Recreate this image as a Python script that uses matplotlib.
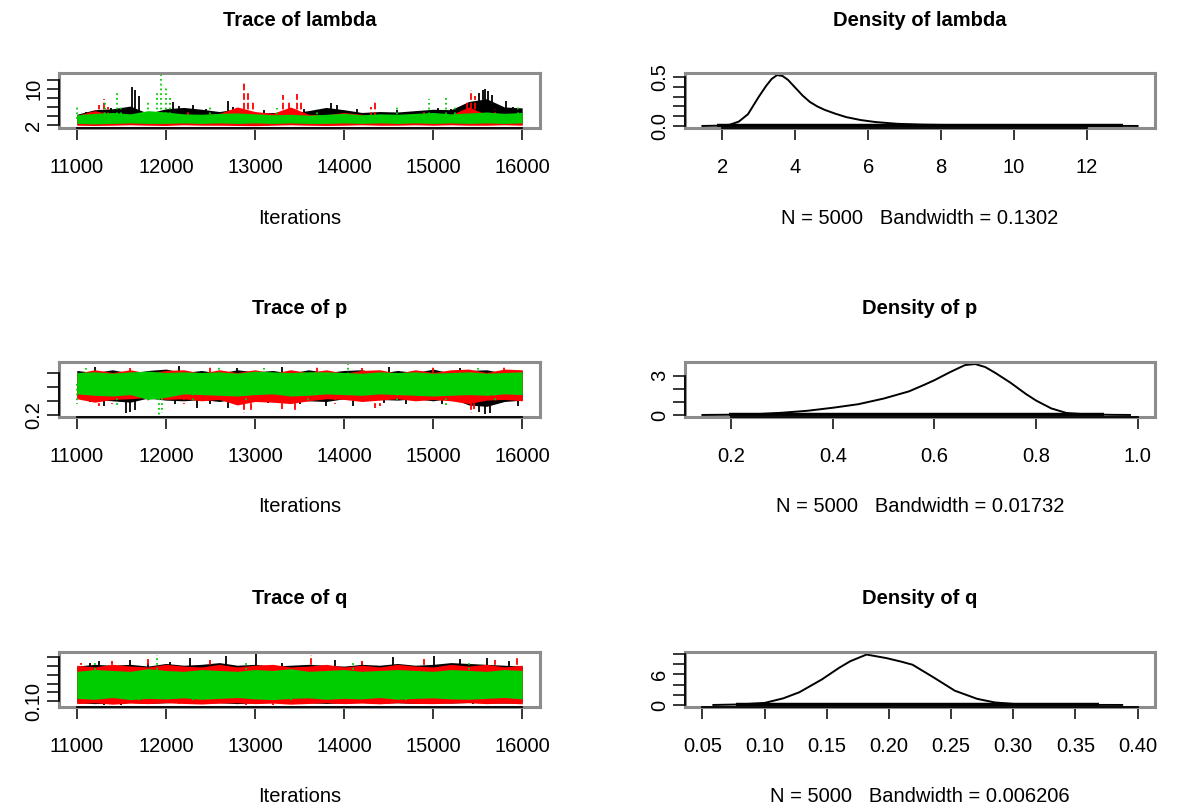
import numpy as np
import matplotlib
matplotlib.use('Agg')
import matplotlib.pyplot as plt

plt.rcParams['font.family'] = ['Liberation Sans', 'DejaVu Sans']

ITERS = list(range(11000, 16001, 200))

# ---- lambda traces (black = chain 1, red = chain 2, green = chain 3)
LAM_K_LO = [2.2, 2.1, 2.2, 2.3, 2.2, 2.1, 2.3, 2.2, 2.2, 2.1, 2.0, 2.2, 2.3, 2.2, 2.1, 2.2, 2.3, 2.2, 2.2, 2.3, 2.2, 2.3, 2.2, 2.2, 2.3, 2.2]
LAM_K_HI = [4.4, 5.4, 5.6, 6.2, 4.6, 5.6, 5.9, 5.5, 5.0, 5.6, 4.6, 4.8, 4.7, 5.2, 5.9, 5.4, 4.8, 5.0, 4.9, 5.2, 5.5, 5.4, 7.2, 7.8, 6.0, 5.8]
LAM_R_LO = [2.0, 1.95, 2.0, 2.1, 2.0, 1.95, 2.1, 2.0, 2.0, 1.95, 1.9, 2.0, 2.1, 2.0, 1.95, 2.0, 2.1, 2.0, 2.0, 2.1, 2.0, 2.1, 2.0, 2.0, 2.1, 2.0]
LAM_R_HI = [4.2, 5.2, 4.3, 4.2, 4.1, 4.2, 4.4, 4.3, 4.6, 6.0, 5.0, 4.6, 6.0, 4.4, 4.3, 4.8, 4.4, 4.2, 4.3, 4.5, 4.2, 4.3, 6.0, 4.3, 4.2, 4.1]
LAM_G_LO = [2.4, 2.3, 2.4, 2.5, 2.4, 2.4, 2.5, 2.4, 2.5, 2.4, 2.5, 2.4, 2.5, 2.4, 2.4, 2.5, 2.4, 2.5, 2.4, 2.5, 2.4, 2.5, 2.4, 2.5, 2.4, 2.5]
LAM_G_HI = [4.3, 4.6, 4.8, 4.5, 5.2, 4.9, 4.5, 4.4, 4.6, 4.7, 4.5, 4.3, 4.4, 4.2, 4.4, 4.6, 4.3, 4.5, 4.4, 4.6, 4.8, 4.5, 4.7, 4.9, 4.6, 4.8]
LAM_K_SPX = [11100, 11250, 11380, 11620, 11650, 11700, 12080, 12150, 12300, 12450, 12600, 12700, 12750, 13100, 13550,
             13600, 13850, 13920, 14150, 14600, 15050, 15200, 15520, 15560, 15580, 15620, 15660, 15820, 15900]
LAM_K_SPY = [5.0, 5.4, 5.8, 10.3, 9.8, 8.5, 7.2, 6.2, 6.5, 5.6, 1.95, 7.4, 6.0, 5.3, 5.5,
             2.0, 6.8, 6.5, 5.6, 5.4, 5.7, 5.6, 9.0, 9.8, 10.0, 9.5, 8.6, 7.3, 6.0]
LAM_R_SPX = [11150, 11250, 11300, 11350, 12250, 12880, 12920, 12980, 13150, 13320, 13380, 13470, 13520, 14300, 14350,
             14900, 15380, 15430, 15470, 15700]
LAM_R_SPY = [5.0, 6.5, 7.8, 6.0, 5.2, 11.2, 9.0, 7.5, 1.84, 8.7, 7.0, 8.9, 7.2, 6.0, 7.0,
             5.4, 7.5, 9.8, 8.5, 5.5]
LAM_G_SPX = [11000, 11320, 11450, 11500, 11800, 11900, 11950, 12000, 12050, 12500, 13250, 13700, 14600, 14950, 15150,
             15250, 15950]
LAM_G_SPY = [6.2, 7.0, 9.0, 6.5, 7.0, 9.5, 13.0, 10.5, 8.0, 6.0, 5.8, 5.5, 6.3, 7.7, 8.1,
             6.0, 5.9]

# ---- p traces
P_K_LO = [0.45, 0.42, 0.40, 0.38, 0.44, 0.41, 0.40, 0.42, 0.39, 0.43, 0.42, 0.44, 0.41, 0.40, 0.39, 0.43, 0.44, 0.42, 0.41, 0.43, 0.40, 0.44, 0.34, 0.32, 0.39, 0.41]
P_K_HI = [0.84, 0.81, 0.85, 0.80, 0.84, 0.86, 0.81, 0.84, 0.80, 0.85, 0.82, 0.84, 0.80, 0.85, 0.81, 0.84, 0.85, 0.80, 0.84, 0.81, 0.86, 0.80, 0.84, 0.85, 0.80, 0.84]
P_R_LO = [0.43, 0.38, 0.42, 0.43, 0.45, 0.42, 0.43, 0.40, 0.42, 0.34, 0.39, 0.38, 0.36, 0.40, 0.43, 0.42, 0.39, 0.41, 0.43, 0.40, 0.42, 0.40, 0.36, 0.41, 0.42, 0.40]
P_R_HI = [0.80, 0.85, 0.81, 0.85, 0.80, 0.84, 0.85, 0.80, 0.85, 0.81, 0.85, 0.80, 0.85, 0.81, 0.85, 0.80, 0.84, 0.85, 0.80, 0.85, 0.81, 0.85, 0.86, 0.81, 0.86, 0.85]
P_G_LO = [0.50, 0.48, 0.47, 0.49, 0.42, 0.45, 0.50, 0.49, 0.48, 0.47, 0.49, 0.50, 0.47, 0.48, 0.50, 0.49, 0.48, 0.50, 0.49, 0.48, 0.47, 0.48, 0.49, 0.48, 0.50, 0.49]
P_G_HI = [0.81, 0.82, 0.80, 0.82, 0.83, 0.81, 0.82, 0.81, 0.82, 0.80, 0.83, 0.82, 0.81, 0.82, 0.82, 0.81, 0.80, 0.82, 0.81, 0.82, 0.80, 0.81, 0.82, 0.80, 0.81, 0.82]
P_K_SPX = [11150, 11200, 11300, 11550, 11600, 11650, 12100, 12150, 12350, 12500, 12700, 12800, 13150, 13300, 13500,
           13800, 14100, 14450, 14500, 14700, 15100, 15300, 15520, 15580, 15640, 15950]
P_K_SPY = [0.38, 0.89, 0.33, 0.22, 0.24, 0.27, 0.36, 0.90, 0.30, 0.35, 0.30, 0.88, 0.37, 0.89, 0.36,
           0.32, 0.33, 0.37, 0.89, 0.35, 0.36, 0.88, 0.24, 0.21, 0.23, 0.33]
P_R_SPX = [11250, 11400, 11600, 11800, 12200, 12500, 12880, 12950, 13300, 13450, 13700, 13900, 14200, 14350, 14400,
           14800, 15000, 15420, 15460, 15800]
P_R_SPY = [0.32, 0.36, 0.88, 0.38, 0.36, 0.89, 0.22, 0.27, 0.28, 0.26, 0.90, 0.36, 0.88, 0.30, 0.33,
           0.37, 0.89, 0.23, 0.28, 0.90]
P_G_SPX = [11000, 11100, 11450, 11920, 11960, 12300, 12600, 12900, 13100, 13600, 14050, 14600, 15150, 15500, 15700]
P_G_SPY = [0.35, 0.88, 0.30, 0.195, 0.22, 0.38, 0.89, 0.37, 0.88, 0.40, 0.933, 0.40, 0.33, 0.88, 0.38]

# ---- q traces
Q_K_LO = [0.090, 0.085, 0.088, 0.092, 0.086, 0.090, 0.094, 0.088, 0.090, 0.085, 0.090, 0.092, 0.088, 0.090, 0.086, 0.090, 0.092, 0.088, 0.090, 0.086, 0.090, 0.088, 0.092, 0.090, 0.088, 0.090]
Q_K_HI = [0.300, 0.310, 0.305, 0.310, 0.300, 0.315, 0.305, 0.310, 0.320, 0.305, 0.310, 0.300, 0.305, 0.310, 0.305, 0.300, 0.310, 0.305, 0.315, 0.305, 0.310, 0.320, 0.315, 0.310, 0.305, 0.300]
Q_R_LO = [0.085, 0.090, 0.082, 0.088, 0.085, 0.090, 0.086, 0.083, 0.088, 0.090, 0.085, 0.088, 0.082, 0.086, 0.090, 0.085, 0.088, 0.084, 0.090, 0.086, 0.085, 0.088, 0.090, 0.085, 0.088, 0.084]
Q_R_HI = [0.305, 0.295, 0.310, 0.300, 0.295, 0.310, 0.300, 0.295, 0.310, 0.295, 0.305, 0.310, 0.295, 0.300, 0.310, 0.295, 0.305, 0.295, 0.310, 0.300, 0.295, 0.310, 0.300, 0.310, 0.295, 0.305]
Q_G_LO = [0.115, 0.110, 0.120, 0.108, 0.115, 0.112, 0.118, 0.110, 0.115, 0.120, 0.112, 0.108, 0.115, 0.118, 0.110, 0.115, 0.112, 0.120, 0.110, 0.115, 0.118, 0.112, 0.110, 0.115, 0.120, 0.112]
Q_G_HI = [0.270, 0.280, 0.275, 0.270, 0.285, 0.275, 0.270, 0.280, 0.275, 0.270, 0.280, 0.275, 0.285, 0.270, 0.275, 0.280, 0.270, 0.275, 0.280, 0.275, 0.270, 0.280, 0.275, 0.270, 0.280, 0.275]
Q_K_SPX = [11150, 11250, 11300, 11500, 11600, 11800, 12050, 12270, 12400, 12680, 12800, 13010, 13300, 13600, 13900,
           14200, 14555, 14800, 15010, 15300, 15450, 15600, 15850]
Q_K_SPY = [0.320, 0.330, 0.080, 0.079, 0.335, 0.320, 0.325, 0.345, 0.082, 0.358, 0.085, 0.369, 0.320, 0.083, 0.335,
           0.325, 0.350, 0.084, 0.360, 0.340, 0.082, 0.345, 0.330]
Q_R_SPX = [11050, 11400, 11550, 11800, 12150, 12500, 12900, 13200, 13630, 13900, 14200, 14500, 14900, 15200, 15700, 15940]
Q_R_SPY = [0.320, 0.330, 0.081, 0.340, 0.083, 0.335, 0.080, 0.0774, 0.365, 0.082, 0.330, 0.082, 0.340, 0.083, 0.335, 0.345]
Q_G_SPX = [11200, 11700, 11895, 12300, 12900, 13400, 14100, 14700, 15400]
Q_G_SPY = [0.335, 0.090, 0.365, 0.092, 0.330, 0.092, 0.325, 0.090, 0.325]

# ---- kernel density curves
LAM_DX = [1.45, 1.9, 2.2, 2.45, 2.7, 3.0, 3.2, 3.35, 3.5, 3.65, 3.8, 4.0, 4.2, 4.4, 4.6, 4.8, 5.1, 5.4, 5.8, 6.2, 6.8, 7.5, 8.5, 9.5, 11.0, 12.5, 13.39]
LAM_DY = [0.0, 0.003, 0.012, 0.045, 0.12, 0.30, 0.41, 0.48, 0.52, 0.51, 0.47, 0.39, 0.31, 0.245, 0.20, 0.165, 0.125, 0.09, 0.06, 0.04, 0.022, 0.013, 0.008, 0.005, 0.003, 0.001, 0.0]
P_DX = [0.143, 0.2, 0.25, 0.3, 0.35, 0.4, 0.45, 0.5, 0.55, 0.58, 0.6, 0.63, 0.66, 0.68, 0.7, 0.72, 0.75, 0.78, 0.8, 0.83, 0.86, 0.9, 0.95, 0.985]
P_DY = [0.0, 0.02, 0.06, 0.17, 0.32, 0.55, 0.82, 1.25, 1.8, 2.3, 2.65, 3.25, 3.8, 3.88, 3.65, 3.2, 2.45, 1.6, 1.1, 0.5, 0.15, 0.04, 0.01, 0.0]
Q_DX = [0.0588, 0.08, 0.10, 0.115, 0.128, 0.146, 0.16, 0.169, 0.182, 0.198, 0.21, 0.219, 0.236, 0.253, 0.271, 0.285, 0.30, 0.33, 0.36, 0.3876]
Q_DY = [0.0, 0.1, 0.4, 1.3, 2.5, 5.0, 7.3, 8.6, 9.9, 9.2, 8.5, 7.9, 5.4, 2.8, 1.2, 0.5, 0.2, 0.05, 0.01, 0.0]

PARAMS = ['lambda', 'p', 'q']
BANDWIDTHS = ['0.1302', '0.01732', '0.006206']
N_SAMPLES = 5000

TRACE_YTICKS = [[2, 4, 6, 8, 10, 12], [0.2, 0.4, 0.6, 0.8], [0.10, 0.15, 0.20, 0.25, 0.30, 0.35]]
TRACE_YLABELS = [['2', '', '', '', '10', ''], ['0.2', '', '', ''], ['0.10', '', '', '', '', '']]
TRACE_XTICKS = [11000, 12000, 13000, 14000, 15000, 16000]
DENS_XTICKS = [[2, 4, 6, 8, 10, 12], [0.2, 0.4, 0.6, 0.8, 1.0], [0.05, 0.10, 0.15, 0.20, 0.25, 0.30, 0.35, 0.40]]
DENS_XLABELS = [['2', '4', '6', '8', '10', '12'], ['0.2', '0.4', '0.6', '0.8', '1.0'],
                ['0.05', '0.10', '0.15', '0.20', '0.25', '0.30', '0.35', '0.40']]
DENS_YTICKS = [[0.0, 0.1, 0.2, 0.3, 0.4, 0.5], [0, 1, 2, 3], [0, 2, 4, 6, 8, 10]]
DENS_YLABELS = [['0.0', '', '', '', '', '0.5'], ['0', '', '', '3'], ['0', '', '', '6', '', '']]

traces = [
    [(LAM_K_LO, LAM_K_HI, LAM_K_SPX, LAM_K_SPY), (LAM_R_LO, LAM_R_HI, LAM_R_SPX, LAM_R_SPY), (LAM_G_LO, LAM_G_HI, LAM_G_SPX, LAM_G_SPY)],
    [(P_K_LO, P_K_HI, P_K_SPX, P_K_SPY), (P_R_LO, P_R_HI, P_R_SPX, P_R_SPY), (P_G_LO, P_G_HI, P_G_SPX, P_G_SPY)],
    [(Q_K_LO, Q_K_HI, Q_K_SPX, Q_K_SPY), (Q_R_LO, Q_R_HI, Q_R_SPX, Q_R_SPY), (Q_G_LO, Q_G_HI, Q_G_SPX, Q_G_SPY)],
]
densities = [(LAM_DX, LAM_DY), (P_DX, P_DY), (Q_DX, Q_DY)]

CHAIN_COLORS = ['#000000', '#FF0000', '#00CD00']
CHAIN_LS = ['-', '--', ':']

W, H = 1177, 806
fig = plt.figure(figsize=(W / 100, H / 100), dpi=100)

ROW_TOPS = [73, 362, 652]
BOX_H = 55
COLS = [(59, 540), (685, 1155)]
LAB_FS = 14.5
TITLE_FS = 14.5


def make_box(l, r, t):
    ax = fig.add_axes([l / W, 1 - (t + BOX_H) / H, (r - l) / W, BOX_H / H])
    for s in ax.spines.values():
        s.set_color('#8c8c8c')
        s.set_linewidth(2.2)
    ax.margins(x=0.04, y=0.04)
    ax.tick_params(axis='both', length=8.5, width=1.1, color='black', labelsize=LAB_FS)
    ax.tick_params(axis='x', pad=13)
    ax.tick_params(axis='y', pad=3)
    return ax


def r_axis_lines(ax, xticks, yticks):
    # R draws the axis line only between first and last tick
    ax.plot([xticks[0], xticks[-1]], [0, 0], transform=ax.get_xaxis_transform(),
            color='black', lw=1.3, clip_on=False, zorder=10)
    ax.plot([0, 0], [yticks[0], yticks[-1]], transform=ax.get_yaxis_transform(),
            color='black', lw=1.3, clip_on=False, zorder=10)


for i, name in enumerate(PARAMS):
    top = ROW_TOPS[i]

    # trace plot, chains drawn in order so later chains sit on top
    ax = make_box(COLS[0][0], COLS[0][1], top)
    base = np.median(traces[i][2][0] + traces[i][2][1])
    for k, ((lo, hi, spx, spy), c, ls) in enumerate(zip(traces[i], CHAIN_COLORS, CHAIN_LS)):
        ax.fill_between(ITERS, lo, hi, color=c, lw=0, zorder=1 + 2 * k)
        ax.vlines(spx, base, spy, color=c, lw=1.3, linestyles=ls, zorder=2 + 2 * k)
    ax.set_xticks(TRACE_XTICKS)
    ax.set_xticklabels([str(t) for t in TRACE_XTICKS])
    ax.set_yticks(TRACE_YTICKS[i])
    ax.set_yticklabels(TRACE_YLABELS[i], rotation=90, va='center')
    r_axis_lines(ax, TRACE_XTICKS, TRACE_YTICKS[i])
    cx = (COLS[0][0] + COLS[0][1]) / 2
    fig.text(cx / W, 1 - (top - 53) / H, 'Trace of ' + name, ha='center', va='center',
             fontsize=TITLE_FS, fontweight='bold')
    fig.text(cx / W, 1 - (top + BOX_H + 90) / H, 'Iterations', ha='center', va='center',
             fontsize=LAB_FS)

    # density plot
    all_vals = []
    for lo, hi, spx, spy in traces[i]:
        all_vals += lo + hi + spy
    dmin, dmax = min(all_vals), max(all_vals)
    dx, dy = densities[i]
    ax2 = make_box(COLS[1][0], COLS[1][1], top)
    ax2.plot(dx, dy, color='black', lw=1.4)
    # observations rug, drawn as R's show.obs does (tiny ticks at y=0)
    ax2.hlines(0, dmin, dmax, color='black', lw=3.2)
    ax2.set_xticks(DENS_XTICKS[i])
    ax2.set_xticklabels(DENS_XLABELS[i])
    ax2.set_yticks(DENS_YTICKS[i])
    ax2.set_yticklabels(DENS_YLABELS[i], rotation=90, va='center')
    r_axis_lines(ax2, DENS_XTICKS[i], DENS_YTICKS[i])
    cx2 = (COLS[1][0] + COLS[1][1]) / 2
    fig.text(cx2 / W, 1 - (top - 53) / H, 'Density of ' + name, ha='center', va='center',
             fontsize=TITLE_FS, fontweight='bold')
    fig.text(cx2 / W, 1 - (top + BOX_H + 90) / H,
             'N = %d   Bandwidth = %s' % (N_SAMPLES, BANDWIDTHS[i]),
             ha='center', va='center', fontsize=LAB_FS)

fig.savefig('out.png', dpi=100)
